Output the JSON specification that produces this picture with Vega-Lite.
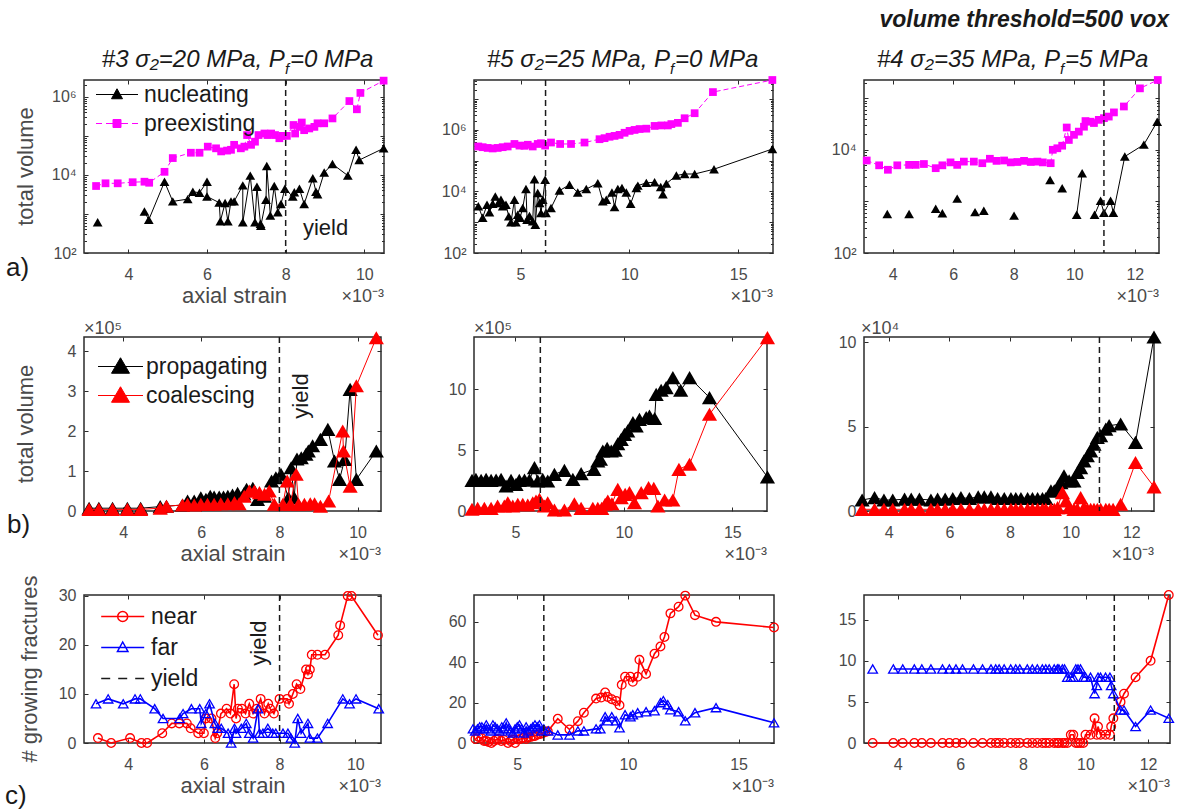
{
"$schema": "https://vega.github.io/schema/vega-lite/v6.json",
"background": "white",
"padding": {"left": 4, "top": 8, "right": 4, "bottom": 4},
"config": {
  "font": "Liberation Sans",
  "view": {"stroke": "#2b2b2b", "strokeWidth": 1.5},
  "axis": {"grid": false, "domain": false, "ticks": true, "tickSize": -4, "tickColor": "#2b2b2b", "tickWidth": 1, "labelFontSize": 16, "labelColor": "#4a4a4a", "titleFontSize": 22, "titleFontWeight": "normal", "titleColor": "#4a4a4a", "labelOverlap": false, "labelFlush": false},
  "axisX": {"labelPadding": 17, "titlePadding": 3},
  "axisY": {"labelPadding": 12},
  "legend": {"labelFontSize": 23, "labelColor": "#1a1a1a", "symbolSize": 100, "symbolStrokeWidth": 1}
},
"resolve": {"scale": {"color": "independent"}, "legend": {"color": "independent"}},
"datasets": {
"a1p": [{"x":3.18,"y":5200},{"x":3.42,"y":6100},{"x":3.73,"y":6100},{"x":4.11,"y":6500},{"x":4.41,"y":6700},{"x":4.53,"y":6300},{"x":4.92,"y":12000},{"x":5.13,"y":27000},{"x":5.59,"y":37000},{"x":5.81,"y":37000},{"x":6.02,"y":53000},{"x":6.23,"y":48000},{"x":6.36,"y":40000},{"x":6.51,"y":42000},{"x":6.61,"y":44000},{"x":6.69,"y":59000},{"x":6.86,"y":48000},{"x":6.95,"y":53000},{"x":7.02,"y":105000},{"x":7.12,"y":59000},{"x":7.22,"y":71000},{"x":7.31,"y":105000},{"x":7.46,"y":115000},{"x":7.54,"y":105000},{"x":7.63,"y":115000},{"x":7.73,"y":105000},{"x":7.84,"y":87000},{"x":7.92,"y":100000},{"x":8.03,"y":100000},{"x":8.2,"y":190000},{"x":8.24,"y":115000},{"x":8.35,"y":170000},{"x":8.41,"y":220000},{"x":8.47,"y":140000},{"x":8.6,"y":155000},{"x":8.73,"y":170000},{"x":8.81,"y":210000},{"x":8.98,"y":210000},{"x":9.19,"y":280000},{"x":9.62,"y":780000},{"x":9.81,"y":480000},{"x":9.9,"y":1260000},{"x":10.49,"y":2600000}],
"a1n": [{"x":3.22,"y":610,"g":1},{"x":4.41,"y":1150},{"x":4.52,"y":710},{"x":4.92,"y":6700},{"x":5.13,"y":2100},{"x":5.51,"y":2400},{"x":5.64,"y":3700},{"x":5.81,"y":3500},{"x":6.0,"y":6700},{"x":6.0,"y":2800},{"x":6.31,"y":1950},{"x":6.34,"y":650},{"x":6.46,"y":1900},{"x":6.53,"y":650},{"x":6.61,"y":2100},{"x":6.69,"y":2100},{"x":6.91,"y":5400},{"x":6.91,"y":610},{"x":7.1,"y":9600},{"x":7.22,"y":610},{"x":7.27,"y":5000},{"x":7.36,"y":560},{"x":7.37,"y":500},{"x":7.5,"y":2300},{"x":7.52,"y":17000},{"x":7.61,"y":910},{"x":7.71,"y":5200},{"x":7.8,"y":1100},{"x":7.88,"y":1800},{"x":7.98,"y":4400},{"x":8.18,"y":2800},{"x":8.22,"y":3600},{"x":8.35,"y":4400},{"x":8.47,"y":1800},{"x":8.69,"y":8200},{"x":8.77,"y":3700},{"x":8.81,"y":3200},{"x":8.98,"y":11500},{"x":9.19,"y":19000},{"x":9.58,"y":9600},{"x":9.79,"y":44000},{"x":9.87,"y":24000},{"x":10.49,"y":48000}],
"a2p": [{"x":3.06,"y":290000},{"x":3.26,"y":275000},{"x":3.49,"y":260000},{"x":3.72,"y":250000},{"x":3.95,"y":260000},{"x":4.18,"y":275000},{"x":4.41,"y":290000},{"x":4.72,"y":350000},{"x":4.95,"y":310000},{"x":5.18,"y":305000},{"x":5.33,"y":330000},{"x":5.56,"y":290000},{"x":5.79,"y":350000},{"x":5.94,"y":370000},{"x":6.13,"y":310000},{"x":6.4,"y":390000},{"x":6.82,"y":350000},{"x":7.32,"y":350000},{"x":7.94,"y":390000},{"x":8.63,"y":500000},{"x":8.86,"y":540000},{"x":9.09,"y":600000},{"x":9.32,"y":640000},{"x":9.55,"y":690000},{"x":9.78,"y":810000},{"x":10.01,"y":930000},{"x":10.24,"y":1000000},{"x":10.47,"y":1070000},{"x":10.78,"y":1100000},{"x":11.16,"y":1350000},{"x":11.47,"y":1400000},{"x":11.77,"y":1400000},{"x":11.93,"y":1550000},{"x":12.23,"y":1700000},{"x":12.54,"y":2400000},{"x":13.0,"y":3500000},{"x":13.84,"y":17000000},{"x":16.57,"y":42000000}],
"a2n": [{"x":3.06,"y":3300},{"x":3.26,"y":1400},{"x":3.46,"y":3700},{"x":3.57,"y":2100},{"x":3.72,"y":4000},{"x":3.84,"y":6900},{"x":3.98,"y":4200},{"x":4.1,"y":5400},{"x":4.18,"y":3300},{"x":4.33,"y":3700},{"x":4.46,"y":1550},{"x":4.56,"y":990},{"x":4.72,"y":5400},{"x":4.79,"y":990},{"x":4.87,"y":1750},{"x":4.98,"y":1400},{"x":5.1,"y":2900},{"x":5.25,"y":12000},{"x":5.3,"y":1200},{"x":5.41,"y":1600},{"x":5.56,"y":1070},{"x":5.64,"y":25000},{"x":5.68,"y":830},{"x":5.79,"y":8900},{"x":5.88,"y":4200},{"x":5.94,"y":2000},{"x":6.02,"y":5400},{"x":6.13,"y":24000},{"x":6.17,"y":2000},{"x":6.4,"y":2900},{"x":6.79,"y":10700},{"x":7.25,"y":16500},{"x":7.63,"y":9300},{"x":8.02,"y":12000},{"x":8.55,"y":18500},{"x":8.78,"y":4800},{"x":8.94,"y":5400},{"x":9.2,"y":9300},{"x":9.32,"y":3100},{"x":9.47,"y":12000},{"x":9.66,"y":13000},{"x":9.86,"y":9300},{"x":10.06,"y":4000},{"x":10.32,"y":13000},{"x":10.39,"y":15500},{"x":10.78,"y":19000},{"x":11.16,"y":20000},{"x":11.44,"y":14000},{"x":11.54,"y":8100},{"x":11.7,"y":18000},{"x":12.16,"y":33000},{"x":12.54,"y":37000},{"x":13.0,"y":37000},{"x":13.89,"y":53000},{"x":16.57,"y":240000}],
"a3p": [{"x":3.14,"y":6200},{"x":3.55,"y":5000},{"x":3.84,"y":4100},{"x":4.15,"y":5000},{"x":4.54,"y":5100},{"x":4.76,"y":5100},{"x":5.03,"y":5300},{"x":5.42,"y":4400},{"x":5.64,"y":5000},{"x":5.91,"y":5700},{"x":6.13,"y":5100},{"x":6.35,"y":5900},{"x":6.68,"y":5900},{"x":6.96,"y":5500},{"x":7.21,"y":6700},{"x":7.43,"y":6100},{"x":7.68,"y":6200},{"x":7.9,"y":5700},{"x":8.12,"y":5800},{"x":8.34,"y":6100},{"x":8.56,"y":5800},{"x":8.78,"y":5900},{"x":8.96,"y":5700},{"x":9.22,"y":5500},{"x":9.29,"y":10000},{"x":9.44,"y":10700},{"x":9.6,"y":12000},{"x":9.75,"y":27000},{"x":9.82,"y":15500},{"x":9.99,"y":19500},{"x":10.15,"y":22500},{"x":10.32,"y":28000},{"x":10.37,"y":36000},{"x":10.54,"y":35000},{"x":10.65,"y":33000},{"x":10.81,"y":38000},{"x":10.98,"y":41000},{"x":11.14,"y":44000},{"x":11.31,"y":53000},{"x":11.64,"y":69000},{"x":12.17,"y":155000},{"x":12.76,"y":225000}],
"a3n": [{"x":3.82,"y":570,"g":1},{"x":4.54,"y":570,"g":2},{"x":5.42,"y":720,"g":3},{"x":5.64,"y":590,"g":4},{"x":6.13,"y":1130,"g":5},{"x":6.72,"y":620,"g":6},{"x":7.01,"y":660,"g":7},{"x":8.01,"y":530,"g":8},{"x":9.2,"y":2600,"g":9},{"x":9.6,"y":1800,"g":10},{"x":10.08,"y":550,"g":11},{"x":10.26,"y":3500,"g":11},{"x":10.67,"y":550,"g":12},{"x":10.87,"y":1030,"g":12},{"x":10.98,"y":600,"g":12},{"x":11.2,"y":1030,"g":12},{"x":11.29,"y":600,"g":12},{"x":11.67,"y":7400,"g":12},{"x":12.3,"y":12600,"g":12},{"x":12.74,"y":35000,"g":12}],
"b1p": [{"x":3.13,"y":7000},{"x":3.38,"y":7000},{"x":3.73,"y":7000},{"x":4.11,"y":7000},{"x":4.45,"y":7000},{"x":4.95,"y":11000},{"x":5.11,"y":12000},{"x":5.52,"y":15000},{"x":5.65,"y":25000},{"x":5.82,"y":25000},{"x":5.99,"y":33000},{"x":6.12,"y":29000},{"x":6.23,"y":37000},{"x":6.33,"y":35000},{"x":6.46,"y":35000},{"x":6.57,"y":35000},{"x":6.68,"y":37000},{"x":6.8,"y":40000},{"x":6.93,"y":44000},{"x":7.09,"y":43000},{"x":7.16,"y":54000},{"x":7.32,"y":57000},{"x":7.44,"y":29000},{"x":7.62,"y":37000},{"x":7.8,"y":75000},{"x":7.91,"y":83000},{"x":8.04,"y":92000},{"x":8.23,"y":33000},{"x":8.3,"y":108000},{"x":8.38,"y":33000},{"x":8.45,"y":130000},{"x":8.56,"y":133000},{"x":8.68,"y":142000},{"x":8.74,"y":150000},{"x":8.85,"y":163000},{"x":9.05,"y":179000},{"x":9.24,"y":204000},{"x":9.41,"y":125000},{"x":9.54,"y":79000},{"x":9.67,"y":129000},{"x":9.81,"y":304000},{"x":9.97,"y":79000},{"x":10.48,"y":150000}],
"b1c": [{"x":3.13,"y":4000},{"x":3.38,"y":4000},{"x":3.73,"y":4000},{"x":4.11,"y":4000},{"x":4.45,"y":4000},{"x":4.95,"y":7000},{"x":5.11,"y":12000},{"x":5.52,"y":15000},{"x":5.65,"y":17000},{"x":5.82,"y":15000},{"x":5.99,"y":17000},{"x":6.16,"y":17000},{"x":6.33,"y":17000},{"x":6.5,"y":18000},{"x":6.68,"y":18000},{"x":6.85,"y":21000},{"x":6.97,"y":18000},{"x":7.1,"y":37000},{"x":7.23,"y":50000},{"x":7.36,"y":50000},{"x":7.49,"y":46000},{"x":7.62,"y":42000},{"x":7.74,"y":50000},{"x":7.87,"y":17000},{"x":8.09,"y":17000},{"x":8.2,"y":75000},{"x":8.28,"y":17000},{"x":8.43,"y":92000},{"x":8.49,"y":17000},{"x":8.64,"y":17000},{"x":8.79,"y":18000},{"x":8.9,"y":18000},{"x":9.05,"y":12000},{"x":9.26,"y":25000},{"x":9.62,"y":200000},{"x":9.64,"y":150000},{"x":9.81,"y":62000},{"x":9.97,"y":313000},{"x":10.48,"y":433000}],
"b2p": [{"x":3.0,"y":252000},{"x":3.18,"y":260000},{"x":3.42,"y":252000},{"x":3.65,"y":260000},{"x":3.88,"y":252000},{"x":4.11,"y":255000},{"x":4.34,"y":260000},{"x":4.57,"y":205000},{"x":4.8,"y":252000},{"x":5.03,"y":219000},{"x":5.18,"y":252000},{"x":5.42,"y":255000},{"x":5.65,"y":255000},{"x":5.88,"y":356000},{"x":6.03,"y":247000},{"x":6.26,"y":260000},{"x":6.49,"y":247000},{"x":6.8,"y":301000},{"x":7.26,"y":334000},{"x":7.65,"y":260000},{"x":8.03,"y":307000},{"x":8.62,"y":342000},{"x":8.8,"y":411000},{"x":8.92,"y":425000},{"x":9.03,"y":493000},{"x":9.23,"y":515000},{"x":9.42,"y":493000},{"x":9.6,"y":499000},{"x":9.72,"y":553000},{"x":9.88,"y":589000},{"x":10.03,"y":630000},{"x":10.18,"y":658000},{"x":10.42,"y":726000},{"x":10.57,"y":699000},{"x":10.72,"y":753000},{"x":11.03,"y":767000},{"x":11.18,"y":781000},{"x":11.42,"y":760000},{"x":11.49,"y":959000},{"x":11.72,"y":992000},{"x":11.95,"y":1014000},{"x":12.26,"y":1096000},{"x":12.62,"y":992000},{"x":13.03,"y":1096000},{"x":13.95,"y":932000},{"x":16.62,"y":279000}],
"b2c": [{"x":3.0,"y":14000},{"x":3.26,"y":22000},{"x":3.57,"y":22000},{"x":3.88,"y":22000},{"x":4.18,"y":41000},{"x":4.49,"y":41000},{"x":4.65,"y":68000},{"x":4.88,"y":41000},{"x":5.11,"y":55000},{"x":5.34,"y":55000},{"x":5.57,"y":49000},{"x":5.8,"y":68000},{"x":5.95,"y":82000},{"x":6.11,"y":96000},{"x":6.34,"y":41000},{"x":6.49,"y":68000},{"x":6.8,"y":8000},{"x":7.26,"y":8000},{"x":7.72,"y":60000},{"x":8.03,"y":22000},{"x":8.57,"y":22000},{"x":8.8,"y":22000},{"x":8.98,"y":22000},{"x":9.14,"y":55000},{"x":9.26,"y":82000},{"x":9.45,"y":60000},{"x":9.72,"y":178000},{"x":9.88,"y":110000},{"x":10.06,"y":137000},{"x":10.26,"y":151000},{"x":10.49,"y":68000},{"x":10.8,"y":151000},{"x":11.14,"y":192000},{"x":11.38,"y":186000},{"x":11.57,"y":41000},{"x":11.88,"y":90000},{"x":12.26,"y":90000},{"x":12.54,"y":342000},{"x":13.03,"y":384000},{"x":13.95,"y":795000},{"x":16.62,"y":1425000}],
"b3p": [{"x":3.12,"y":6500},{"x":3.53,"y":7900},{"x":3.84,"y":6500},{"x":4.13,"y":6500},{"x":4.52,"y":7000},{"x":4.74,"y":7000},{"x":5.01,"y":7000},{"x":5.39,"y":6500},{"x":5.61,"y":7000},{"x":5.86,"y":7000},{"x":6.11,"y":7400},{"x":6.38,"y":7900},{"x":6.66,"y":7400},{"x":6.95,"y":8400},{"x":7.15,"y":8400},{"x":7.37,"y":8400},{"x":7.59,"y":7400},{"x":7.81,"y":7400},{"x":8.03,"y":7400},{"x":8.19,"y":7400},{"x":8.36,"y":7400},{"x":8.58,"y":7400},{"x":8.74,"y":7400},{"x":8.91,"y":7400},{"x":9.07,"y":7400},{"x":9.18,"y":7400},{"x":9.35,"y":11900},{"x":9.46,"y":11900},{"x":9.57,"y":14300},{"x":9.68,"y":16800},{"x":9.78,"y":20800},{"x":9.95,"y":17800},{"x":10.11,"y":17800},{"x":10.22,"y":22800},{"x":10.33,"y":25700},{"x":10.44,"y":29700},{"x":10.55,"y":32700},{"x":10.66,"y":35600},{"x":10.77,"y":39600},{"x":10.88,"y":43600},{"x":10.99,"y":44600},{"x":11.16,"y":48500},{"x":11.27,"y":50500},{"x":11.65,"y":51500},{"x":12.14,"y":40600},{"x":12.75,"y":103000}],
"b3c": [{"x":3.12,"y":1000},{"x":3.53,"y":1000},{"x":3.84,"y":1000},{"x":4.13,"y":1000},{"x":4.52,"y":1000},{"x":4.74,"y":1000},{"x":5.01,"y":1000},{"x":5.39,"y":1000},{"x":5.61,"y":1000},{"x":5.86,"y":1000},{"x":6.11,"y":1000},{"x":6.38,"y":1000},{"x":6.66,"y":1000},{"x":6.95,"y":1000},{"x":7.15,"y":1000},{"x":7.37,"y":1000},{"x":7.59,"y":1000},{"x":7.81,"y":1000},{"x":8.03,"y":1000},{"x":8.19,"y":1000},{"x":8.36,"y":1000},{"x":8.58,"y":1000},{"x":8.74,"y":1000},{"x":8.91,"y":1000},{"x":9.07,"y":1000},{"x":9.18,"y":1000},{"x":9.35,"y":1000},{"x":9.46,"y":1000},{"x":9.57,"y":2000},{"x":9.73,"y":10900},{"x":9.85,"y":6000},{"x":9.95,"y":2000},{"x":10.11,"y":1000},{"x":10.22,"y":1000},{"x":10.33,"y":7900},{"x":10.44,"y":2000},{"x":10.55,"y":1000},{"x":10.66,"y":1000},{"x":10.77,"y":1000},{"x":10.88,"y":1000},{"x":10.99,"y":1000},{"x":11.16,"y":1000},{"x":11.27,"y":1000},{"x":11.4,"y":1000},{"x":11.65,"y":4000},{"x":12.14,"y":28700},{"x":12.75,"y":14300}],
"c1n": [{"x":3.2,"y":1},{"x":3.55,"y":0},{"x":4.05,"y":1},{"x":4.35,"y":0},{"x":4.5,"y":0},{"x":4.9,"y":2},{"x":5.15,"y":4},{"x":5.35,"y":4},{"x":5.55,"y":4},{"x":5.65,"y":3},{"x":5.85,"y":2},{"x":6.0,"y":2},{"x":6.05,"y":5},{"x":6.2,"y":5},{"x":6.3,"y":1},{"x":6.35,"y":2},{"x":6.45,"y":6},{"x":6.6,"y":7},{"x":6.7,"y":6},{"x":6.8,"y":12},{"x":6.85,"y":5},{"x":6.9,"y":7},{"x":7.0,"y":7},{"x":7.1,"y":6},{"x":7.2,"y":8},{"x":7.3,"y":6},{"x":7.4,"y":7},{"x":7.5,"y":9},{"x":7.6,"y":6},{"x":7.7,"y":8},{"x":7.75,"y":7},{"x":7.85,"y":6},{"x":8.0,"y":9},{"x":8.2,"y":9},{"x":8.25,"y":8},{"x":8.35,"y":10},{"x":8.45,"y":12},{"x":8.55,"y":11},{"x":8.7,"y":15},{"x":8.75,"y":14},{"x":8.8,"y":15},{"x":8.85,"y":18},{"x":9.0,"y":18},{"x":9.2,"y":18},{"x":9.55,"y":22},{"x":9.6,"y":24},{"x":9.8,"y":30},{"x":9.9,"y":30},{"x":10.6,"y":22}],
"c1f": [{"x":3.15,"y":8},{"x":3.47,"y":9},{"x":3.87,"y":8},{"x":4.18,"y":9},{"x":4.32,"y":9},{"x":4.7,"y":7},{"x":4.92,"y":5},{"x":5.36,"y":5},{"x":5.45,"y":6},{"x":5.67,"y":7},{"x":5.89,"y":7},{"x":5.93,"y":4},{"x":6.05,"y":6},{"x":6.15,"y":8},{"x":6.29,"y":4},{"x":6.37,"y":3},{"x":6.46,"y":3},{"x":6.64,"y":2},{"x":6.72,"y":0},{"x":6.81,"y":3},{"x":6.85,"y":2},{"x":6.99,"y":3},{"x":7.12,"y":4},{"x":7.2,"y":2},{"x":7.3,"y":1},{"x":7.43,"y":7},{"x":7.47,"y":2},{"x":7.56,"y":2},{"x":7.69,"y":3},{"x":7.82,"y":2},{"x":7.9,"y":2},{"x":8.09,"y":2},{"x":8.22,"y":2},{"x":8.3,"y":1},{"x":8.4,"y":0},{"x":8.48,"y":5},{"x":8.57,"y":2},{"x":8.75,"y":4},{"x":8.8,"y":1},{"x":9.0,"y":1},{"x":9.27,"y":4},{"x":9.67,"y":9},{"x":9.85,"y":8},{"x":10.02,"y":9},{"x":10.62,"y":7}],
"c2n": [{"x":3.11,"y":2},{"x":3.25,"y":3},{"x":3.38,"y":2.5},{"x":3.5,"y":1},{"x":3.6,"y":1},{"x":3.7,"y":0.5},{"x":3.83,"y":0},{"x":3.95,"y":1},{"x":4.05,"y":1.7},{"x":4.15,"y":2},{"x":4.28,"y":1},{"x":4.4,"y":1.5},{"x":4.58,"y":0},{"x":4.7,"y":1},{"x":4.8,"y":1.7},{"x":4.9,"y":0},{"x":5.03,"y":1.7},{"x":5.15,"y":2},{"x":5.26,"y":2.5},{"x":5.4,"y":2},{"x":5.48,"y":2.8},{"x":5.6,"y":3},{"x":5.71,"y":3.3},{"x":5.8,"y":3.5},{"x":5.93,"y":4.2},{"x":6.05,"y":4.5},{"x":6.16,"y":5},{"x":6.27,"y":5.5},{"x":6.38,"y":5.8},{"x":6.83,"y":12},{"x":7.36,"y":6.7},{"x":7.74,"y":10.8},{"x":8.01,"y":15},{"x":8.56,"y":22},{"x":8.79,"y":22.5},{"x":8.97,"y":25},{"x":9.09,"y":22.8},{"x":9.27,"y":21.7},{"x":9.47,"y":20.8},{"x":9.62,"y":18.7},{"x":9.72,"y":28.8},{"x":9.87,"y":32.8},{"x":10.11,"y":32.8},{"x":10.22,"y":30.3},{"x":10.44,"y":32.8},{"x":10.52,"y":41.2},{"x":10.82,"y":34.2},{"x":11.2,"y":44.2},{"x":11.47,"y":47.8},{"x":11.65,"y":52.5},{"x":11.92,"y":64.2},{"x":12.29,"y":67.5},{"x":12.59,"y":73},{"x":13.03,"y":63.3},{"x":13.98,"y":60},{"x":16.6,"y":57.2}],
"c2f": [{"x":3.0,"y":7},{"x":3.1,"y":6},{"x":3.2,"y":7},{"x":3.3,"y":8},{"x":3.4,"y":8},{"x":3.5,"y":7},{"x":3.6,"y":9},{"x":3.7,"y":7},{"x":3.8,"y":6},{"x":3.9,"y":9},{"x":4.0,"y":8},{"x":4.1,"y":7},{"x":4.2,"y":6},{"x":4.3,"y":8},{"x":4.4,"y":7},{"x":4.5,"y":10},{"x":4.6,"y":7},{"x":4.7,"y":6},{"x":4.8,"y":5},{"x":4.9,"y":7},{"x":5.0,"y":8},{"x":5.1,"y":9},{"x":5.2,"y":7},{"x":5.3,"y":5},{"x":5.4,"y":8},{"x":5.5,"y":6},{"x":5.6,"y":7},{"x":5.7,"y":8},{"x":5.8,"y":9},{"x":5.9,"y":8},{"x":6.0,"y":9},{"x":6.1,"y":6},{"x":6.2,"y":7},{"x":6.4,"y":6},{"x":6.83,"y":4},{"x":7.36,"y":4},{"x":7.74,"y":6},{"x":8.01,"y":6},{"x":8.56,"y":7},{"x":8.75,"y":7},{"x":8.97,"y":13},{"x":9.09,"y":11},{"x":9.27,"y":13},{"x":9.47,"y":11},{"x":9.62,"y":7.5},{"x":9.87,"y":14},{"x":10.11,"y":13},{"x":10.22,"y":14},{"x":10.44,"y":15},{"x":10.82,"y":15.5},{"x":11.2,"y":16},{"x":11.47,"y":20},{"x":11.6,"y":21},{"x":11.8,"y":19},{"x":11.92,"y":16.5},{"x":12.29,"y":15.5},{"x":12.59,"y":11},{"x":13.03,"y":15},{"x":13.98,"y":17.5},{"x":16.6,"y":10}],
"c3n": [{"x":3.2,"y":0},{"x":3.86,"y":0},{"x":4.16,"y":0},{"x":4.53,"y":0},{"x":4.77,"y":0},{"x":5.06,"y":0},{"x":5.43,"y":0},{"x":5.65,"y":0},{"x":5.86,"y":0},{"x":6.07,"y":0},{"x":6.42,"y":0},{"x":6.71,"y":0},{"x":6.98,"y":0},{"x":7.13,"y":0},{"x":7.24,"y":0},{"x":7.4,"y":0},{"x":7.61,"y":0},{"x":7.77,"y":0},{"x":7.9,"y":0},{"x":8.14,"y":0},{"x":8.3,"y":0},{"x":8.46,"y":0},{"x":8.62,"y":0},{"x":8.73,"y":0},{"x":8.84,"y":0},{"x":9.0,"y":0},{"x":9.1,"y":0},{"x":9.15,"y":0},{"x":9.26,"y":0},{"x":9.33,"y":0},{"x":9.42,"y":0},{"x":9.53,"y":1},{"x":9.61,"y":1},{"x":9.69,"y":0},{"x":9.76,"y":0},{"x":9.84,"y":0},{"x":9.93,"y":0},{"x":10.0,"y":1},{"x":10.16,"y":1},{"x":10.29,"y":3},{"x":10.36,"y":1},{"x":10.4,"y":2},{"x":10.48,"y":1},{"x":10.64,"y":1},{"x":10.78,"y":1},{"x":10.82,"y":2},{"x":10.89,"y":3},{"x":11.12,"y":5},{"x":11.23,"y":6},{"x":11.6,"y":8},{"x":12.08,"y":10},{"x":12.66,"y":18}],
"c3f": [{"x":3.2,"y":9,"g":1},{"x":3.86,"y":9},{"x":4.16,"y":9},{"x":4.53,"y":9},{"x":4.77,"y":9},{"x":5.06,"y":9},{"x":5.43,"y":9},{"x":5.65,"y":9},{"x":5.86,"y":9},{"x":6.07,"y":9},{"x":6.42,"y":9},{"x":6.71,"y":9},{"x":6.98,"y":9},{"x":7.13,"y":9},{"x":7.24,"y":9},{"x":7.4,"y":9},{"x":7.61,"y":9},{"x":7.77,"y":9},{"x":7.9,"y":9},{"x":8.14,"y":9},{"x":8.3,"y":9},{"x":8.46,"y":9},{"x":8.62,"y":9},{"x":8.73,"y":9},{"x":8.84,"y":9},{"x":9.0,"y":9},{"x":9.1,"y":9},{"x":9.15,"y":9},{"x":9.26,"y":9},{"x":9.33,"y":9},{"x":9.42,"y":8},{"x":9.53,"y":8},{"x":9.61,"y":8},{"x":9.69,"y":9},{"x":9.76,"y":9},{"x":9.84,"y":9},{"x":9.93,"y":8},{"x":10.0,"y":8},{"x":10.16,"y":8},{"x":10.29,"y":6},{"x":10.36,"y":7},{"x":10.4,"y":8},{"x":10.48,"y":8},{"x":10.64,"y":8},{"x":10.78,"y":8},{"x":10.82,"y":7},{"x":10.89,"y":6},{"x":11.12,"y":4},{"x":11.23,"y":4},{"x":11.6,"y":2},{"x":12.08,"y":4},{"x":12.66,"y":3}]
},
"columns": 3,
"spacing": {"row": 84, "column": 90},
"bounds": "flush",
"align": "each",
"concat": [
{
 "width": 300, "height": 173,
 "resolve": {"axis": {"x": "independent", "y": "independent"}},
 "layer": [
  {"data": {"name": "a1p"}, "mark": {"type": "line", "strokeWidth": 1, "strokeDash": [5, 3]},
   "encoding": {
    "x": {"field": "x", "type": "quantitative", "scale": {"domain": [2.873, 10.5], "nice": false, "zero": false}, "axis": {"values": [4, 6, 8, 10], "title": "axial strain"}},
    "y": {"field": "y", "type": "quantitative", "scale": {"type": "log", "domain": [100, 2700000], "nice": false}, "axis": {"values": [100, 1000, 10000, 100000, 1000000], "labelExpr": "datum.value==100?'10²':datum.value==10000?'10⁴':datum.value==1000000?'10⁶':''", "title": null}},
    "color": {"datum": "preexisting", "scale": {"domain": ["nucleating", "preexisting"], "range": ["#000000", "#ff00ff"]},
     "legend": {"title": null, "orient": "none", "legendX": 21.5, "legendY": 3, "rowPadding": 5, "labelOffset": 15.5, "symbolOffset": 0,
      "encode": {"symbols": {"update": {
        "shape": {"signal": "datum.value=='nucleating'?'M-4.2,0H4.2M0,-1.15L1.1,0.85H-1.1Z':'M-4.2,0H-3M-2.2,0H-0.8M0.8,0H2.2M3,0H4.2M-0.8,-0.8H0.8V0.8H-0.8Z'"},
        "fill": {"signal": "datum.value=='nucleating'?'#000000':'#ff00ff'"},
        "stroke": {"signal": "datum.value=='nucleating'?'#000000':'#ff00ff'"},
        "strokeWidth": {"value": 1}, "opacity": {"value": 1}, "strokeDash": {"value": []}}}}}},
    "order": {"value": null}}},
  {"data": {"name": "a1p"}, "mark": {"type": "point", "shape": "square", "filled": true, "size": 60, "opacity": 1},
   "encoding": {"x": {"field": "x", "type": "quantitative", "axis": null}, "y": {"field": "y", "type": "quantitative", "axis": null}, "color": {"datum": "preexisting", "legend": null}}},
  {"data": {"name": "a1n"}, "mark": {"type": "line", "strokeWidth": 1},
   "encoding": {"x": {"field": "x", "type": "quantitative", "axis": null}, "y": {"field": "y", "type": "quantitative", "axis": null}, "color": {"datum": "nucleating", "legend": null}, "detail": {"field": "g"}, "order": {"value": null}}},
  {"data": {"name": "a1n"}, "mark": {"type": "point", "shape": "triangle-up", "filled": true, "size": 95, "opacity": 1},
   "encoding": {"x": {"field": "x", "type": "quantitative", "axis": null}, "y": {"field": "y", "type": "quantitative", "axis": null}, "color": {"datum": "nucleating", "legend": null}}},
  {"data": {"values": [{}]}, "mark": {"type": "point", "opacity": 0},
   "encoding": {"x": {"datum": 5, "type": "quantitative", "axis": {"orient": "top", "values": [4, 6, 8, 10], "labels": false, "title": null}}, "y": {"datum": 1000, "type": "quantitative", "axis": {"orient": "right", "values": [100, 1000, 10000, 100000, 1000000], "labels": false, "title": null}}}},
  {"data": {"values": [{}]}, "mark": {"type": "point", "opacity": 0},
   "encoding": {"x": {"datum": 5, "type": "quantitative", "axis": null}, "y": {"datum": 1000, "type": "quantitative", "axis": {"orient": "left", "values": [200,300,400,500,600,700,800,900,2000,3000,4000,5000,6000,7000,8000,9000,20000,30000,40000,50000,60000,70000,80000,90000,200000,300000,400000,500000,600000,700000,800000,900000,2000000], "labels": false, "title": null, "tickSize": -2.5}}}},
  {"data": {"values": [{}]}, "mark": {"type": "point", "opacity": 0},
   "encoding": {"x": {"datum": 5, "type": "quantitative", "axis": null}, "y": {"datum": 1000, "type": "quantitative", "axis": {"orient": "right", "values": [200,300,400,500,600,700,800,900,2000,3000,4000,5000,6000,7000,8000,9000,20000,30000,40000,50000,60000,70000,80000,90000,200000,300000,400000,500000,600000,700000,800000,900000,2000000], "labels": false, "title": null, "tickSize": -2.5}}}},
  {"data": {"values": [{}]}, "mark": {"type": "rule", "strokeDash": [6, 4], "strokeWidth": 1.5, "color": "#1a1a1a"},
   "encoding": {"x": {"datum": 8, "type": "quantitative", "axis": null}}},
  {"data": {"values": [{}]}, "mark": {"type": "text", "text": "yield", "fontSize": 22, "align": "left", "baseline": "middle", "color": "#1a1a1a"},
   "encoding": {"x": {"datum": 8.44, "type": "quantitative", "axis": null}, "y": {"datum": 437, "type": "quantitative", "axis": null}}},
  {"data": {"values": [{}]}, "mark": {"type": "text", "text": "total volume", "fontSize": 22, "angle": 270, "align": "center", "baseline": "middle", "color": "#4a4a4a"},
   "encoding": {"x": {"datum": 1.398, "type": "quantitative", "axis": null}, "y": {"datum": 16430, "type": "quantitative", "axis": null}}},
  {"data": {"values": [{}]}, "mark": {"type": "text", "text": "#3 σ₂=20 MPa, P", "fontSize": 24, "fontStyle": "italic", "align": "right", "baseline": "alphabetic", "color": "#1a1a1a"},
   "encoding": {"x": {"datum": 7.98, "type": "quantitative", "axis": null}, "y": {"datum": 5800000, "type": "quantitative", "axis": null}}},
  {"data": {"values": [{}]}, "mark": {"type": "text", "text": "f", "fontSize": 15, "fontStyle": "italic", "align": "left", "baseline": "alphabetic", "dy": 7, "dx": 0, "color": "#1a1a1a"},
   "encoding": {"x": {"datum": 7.98, "type": "quantitative", "axis": null}, "y": {"datum": 5800000, "type": "quantitative", "axis": null}}},
  {"data": {"values": [{}]}, "mark": {"type": "text", "text": "=0 MPa", "fontSize": 24, "fontStyle": "italic", "align": "left", "baseline": "alphabetic", "dx": 5, "color": "#1a1a1a"},
   "encoding": {"x": {"datum": 7.98, "type": "quantitative", "axis": null}, "y": {"datum": 5800000, "type": "quantitative", "axis": null}}},
  {"data": {"values": [{}]}, "mark": {"type": "text", "text": "×10⁻³", "fontSize": 18, "align": "right", "baseline": "middle", "color": "#4a4a4a"},
   "encoding": {"x": {"datum": 10.5, "type": "quantitative", "axis": null}, "y": {"datum": 7.46, "type": "quantitative", "axis": null}}},
  {"data": {"values": [{}]}, "mark": {"type": "text", "text": "a)", "fontSize": 26, "align": "left", "baseline": "middle", "color": "#1a1a1a"},
   "encoding": {"x": {"datum": 0.89, "type": "quantitative", "axis": null}, "y": {"datum": 41.3, "type": "quantitative", "axis": null}}}
 ]
},
{
 "width": 299, "height": 173,
 "resolve": {"axis": {"x": "independent", "y": "independent"}},
 "layer": [
  {"data": {"name": "a2p"}, "mark": {"type": "line", "strokeWidth": 1, "strokeDash": [5, 3]},
   "encoding": {
    "x": {"field": "x", "type": "quantitative", "scale": {"domain": [2.862, 16.6], "nice": false, "zero": false}, "axis": {"values": [5, 10, 15], "title": null}},
    "y": {"field": "y", "type": "quantitative", "scale": {"type": "log", "domain": [100, 42000000], "nice": false}, "axis": {"values": [100, 1000, 10000, 100000, 1000000, 10000000], "labelExpr": "datum.value==100?'10²':datum.value==10000?'10⁴':datum.value==1000000?'10⁶':''", "title": null}},
    "color": {"datum": "preexisting", "scale": {"domain": ["nucleating", "preexisting"], "range": ["#000000", "#ff00ff"]}, "legend": null},
    "order": {"value": null}}},
  {"data": {"name": "a2p"}, "mark": {"type": "point", "shape": "square", "filled": true, "size": 60, "opacity": 1},
   "encoding": {"x": {"field": "x", "type": "quantitative", "axis": null}, "y": {"field": "y", "type": "quantitative", "axis": null}, "color": {"datum": "preexisting", "legend": null}}},
  {"data": {"name": "a2n"}, "mark": {"type": "line", "strokeWidth": 1},
   "encoding": {"x": {"field": "x", "type": "quantitative", "axis": null}, "y": {"field": "y", "type": "quantitative", "axis": null}, "color": {"datum": "nucleating", "legend": null}, "order": {"value": null}}},
  {"data": {"name": "a2n"}, "mark": {"type": "point", "shape": "triangle-up", "filled": true, "size": 95, "opacity": 1},
   "encoding": {"x": {"field": "x", "type": "quantitative", "axis": null}, "y": {"field": "y", "type": "quantitative", "axis": null}, "color": {"datum": "nucleating", "legend": null}}},
  {"data": {"values": [{}]}, "mark": {"type": "point", "opacity": 0},
   "encoding": {"x": {"datum": 5, "type": "quantitative", "axis": {"orient": "top", "values": [5, 10, 15], "labels": false, "title": null}}, "y": {"datum": 1000, "type": "quantitative", "axis": {"orient": "right", "values": [100, 1000, 10000, 100000, 1000000, 10000000], "labels": false, "title": null}}}},
  {"data": {"values": [{}]}, "mark": {"type": "point", "opacity": 0},
   "encoding": {"x": {"datum": 5, "type": "quantitative", "axis": null}, "y": {"datum": 1000, "type": "quantitative", "axis": {"orient": "left", "values": [200,300,400,500,600,700,800,900,2000,3000,4000,5000,6000,7000,8000,9000,20000,30000,40000,50000,60000,70000,80000,90000,200000,300000,400000,500000,600000,700000,800000,900000,2000000,3000000,4000000,5000000,6000000,7000000,8000000,9000000,20000000,30000000,40000000], "labels": false, "title": null, "tickSize": -2.5}}}},
  {"data": {"values": [{}]}, "mark": {"type": "point", "opacity": 0},
   "encoding": {"x": {"datum": 5, "type": "quantitative", "axis": null}, "y": {"datum": 1000, "type": "quantitative", "axis": {"orient": "right", "values": [200,300,400,500,600,700,800,900,2000,3000,4000,5000,6000,7000,8000,9000,20000,30000,40000,50000,60000,70000,80000,90000,200000,300000,400000,500000,600000,700000,800000,900000,2000000,3000000,4000000,5000000,6000000,7000000,8000000,9000000,20000000,30000000,40000000], "labels": false, "title": null, "tickSize": -2.5}}}},
  {"data": {"values": [{}]}, "mark": {"type": "rule", "strokeDash": [6, 4], "strokeWidth": 1.5, "color": "#1a1a1a"},
   "encoding": {"x": {"datum": 6.15, "type": "quantitative", "axis": null}}},
  {"data": {"values": [{}]}, "mark": {"type": "text", "text": "#5 σ₂=25 MPa, P", "fontSize": 24, "fontStyle": "italic", "align": "right", "baseline": "alphabetic", "color": "#1a1a1a"},
   "encoding": {"x": {"datum": 11.87, "type": "quantitative", "axis": null}, "y": {"datum": 111000000, "type": "quantitative", "axis": null}}},
  {"data": {"values": [{}]}, "mark": {"type": "text", "text": "f", "fontSize": 15, "fontStyle": "italic", "align": "left", "baseline": "alphabetic", "dy": 7, "color": "#1a1a1a"},
   "encoding": {"x": {"datum": 11.87, "type": "quantitative", "axis": null}, "y": {"datum": 111000000, "type": "quantitative", "axis": null}}},
  {"data": {"values": [{}]}, "mark": {"type": "text", "text": "=0 MPa", "fontSize": 24, "fontStyle": "italic", "align": "left", "baseline": "alphabetic", "dx": 5, "color": "#1a1a1a"},
   "encoding": {"x": {"datum": 11.87, "type": "quantitative", "axis": null}, "y": {"datum": 111000000, "type": "quantitative", "axis": null}}},
  {"data": {"values": [{}]}, "mark": {"type": "text", "text": "×10⁻³", "fontSize": 18, "align": "right", "baseline": "middle", "color": "#4a4a4a"},
   "encoding": {"x": {"datum": 16.6, "type": "quantitative", "axis": null}, "y": {"datum": 3.72, "type": "quantitative", "axis": null}}}
 ]
},
{
 "width": 295, "height": 173,
 "resolve": {"axis": {"x": "independent", "y": "independent"}},
 "layer": [
  {"data": {"name": "a3p"}, "mark": {"type": "line", "strokeWidth": 1, "strokeDash": [5, 3]},
   "encoding": {
    "x": {"field": "x", "type": "quantitative", "scale": {"domain": [3.05, 12.8], "nice": false, "zero": false}, "axis": {"values": [4, 6, 8, 10, 12], "title": null}},
    "y": {"field": "y", "type": "quantitative", "scale": {"type": "log", "domain": [100, 225000], "nice": false}, "axis": {"values": [100, 1000, 10000, 100000], "labelExpr": "datum.value==100?'10²':datum.value==10000?'10⁴':''", "title": null}},
    "color": {"datum": "preexisting", "scale": {"domain": ["nucleating", "preexisting"], "range": ["#000000", "#ff00ff"]}, "legend": null},
    "order": {"value": null}}},
  {"data": {"name": "a3p"}, "mark": {"type": "point", "shape": "square", "filled": true, "size": 60, "opacity": 1},
   "encoding": {"x": {"field": "x", "type": "quantitative", "axis": null}, "y": {"field": "y", "type": "quantitative", "axis": null}, "color": {"datum": "preexisting", "legend": null}}},
  {"data": {"name": "a3n"}, "mark": {"type": "line", "strokeWidth": 1},
   "encoding": {"x": {"field": "x", "type": "quantitative", "axis": null}, "y": {"field": "y", "type": "quantitative", "axis": null}, "color": {"datum": "nucleating", "legend": null}, "detail": {"field": "g"}, "order": {"value": null}}},
  {"data": {"name": "a3n"}, "mark": {"type": "point", "shape": "triangle-up", "filled": true, "size": 95, "opacity": 1},
   "encoding": {"x": {"field": "x", "type": "quantitative", "axis": null}, "y": {"field": "y", "type": "quantitative", "axis": null}, "color": {"datum": "nucleating", "legend": null}}},
  {"data": {"values": [{}]}, "mark": {"type": "point", "opacity": 0},
   "encoding": {"x": {"datum": 5, "type": "quantitative", "axis": {"orient": "top", "values": [4, 6, 8, 10, 12], "labels": false, "title": null}}, "y": {"datum": 1000, "type": "quantitative", "axis": {"orient": "right", "values": [100, 1000, 10000, 100000], "labels": false, "title": null}}}},
  {"data": {"values": [{}]}, "mark": {"type": "point", "opacity": 0},
   "encoding": {"x": {"datum": 5, "type": "quantitative", "axis": null}, "y": {"datum": 1000, "type": "quantitative", "axis": {"orient": "left", "values": [200,300,400,500,600,700,800,900,2000,3000,4000,5000,6000,7000,8000,9000,20000,30000,40000,50000,60000,70000,80000,90000,200000], "labels": false, "title": null, "tickSize": -2.5}}}},
  {"data": {"values": [{}]}, "mark": {"type": "point", "opacity": 0},
   "encoding": {"x": {"datum": 5, "type": "quantitative", "axis": null}, "y": {"datum": 1000, "type": "quantitative", "axis": {"orient": "right", "values": [200,300,400,500,600,700,800,900,2000,3000,4000,5000,6000,7000,8000,9000,20000,30000,40000,50000,60000,70000,80000,90000,200000], "labels": false, "title": null, "tickSize": -2.5}}}},
  {"data": {"values": [{}]}, "mark": {"type": "rule", "strokeDash": [6, 4], "strokeWidth": 1.5, "color": "#1a1a1a"},
   "encoding": {"x": {"datum": 10.98, "type": "quantitative", "axis": null}}},
  {"data": {"values": [{}]}, "mark": {"type": "text", "text": "#4 σ₂=35 MPa, P", "fontSize": 24, "fontStyle": "italic", "align": "right", "baseline": "alphabetic", "color": "#1a1a1a"},
   "encoding": {"x": {"datum": 9.53, "type": "quantitative", "axis": null}, "y": {"datum": 400000, "type": "quantitative", "axis": null}}},
  {"data": {"values": [{}]}, "mark": {"type": "text", "text": "f", "fontSize": 15, "fontStyle": "italic", "align": "left", "baseline": "alphabetic", "dy": 7, "color": "#1a1a1a"},
   "encoding": {"x": {"datum": 9.53, "type": "quantitative", "axis": null}, "y": {"datum": 400000, "type": "quantitative", "axis": null}}},
  {"data": {"values": [{}]}, "mark": {"type": "text", "text": "=5 MPa", "fontSize": 24, "fontStyle": "italic", "align": "left", "baseline": "alphabetic", "dx": 5, "color": "#1a1a1a"},
   "encoding": {"x": {"datum": 9.53, "type": "quantitative", "axis": null}, "y": {"datum": 400000, "type": "quantitative", "axis": null}}},
  {"data": {"values": [{}]}, "mark": {"type": "text", "text": "volume threshold=500 vox", "fontSize": 23, "fontStyle": "italic", "fontWeight": "bold", "align": "right", "baseline": "alphabetic", "color": "#1a1a1a"},
   "encoding": {"x": {"datum": 13.13, "type": "quantitative", "axis": null}, "y": {"datum": 2390000, "type": "quantitative", "axis": null}}},
  {"data": {"values": [{}]}, "mark": {"type": "text", "text": "×10⁻³", "fontSize": 18, "align": "right", "baseline": "middle", "color": "#4a4a4a"},
   "encoding": {"x": {"datum": 12.8, "type": "quantitative", "axis": null}, "y": {"datum": 14, "type": "quantitative", "axis": null}}}
 ]
},
{
 "width": 297, "height": 174,
 "resolve": {"axis": {"x": "independent", "y": "independent"}},
 "layer": [
  {"data": {"name": "b1p"}, "mark": {"type": "line", "strokeWidth": 1},
   "encoding": {
    "x": {"field": "x", "type": "quantitative", "scale": {"domain": [3.0, 10.6], "nice": false, "zero": false}, "axis": {"values": [4, 6, 8, 10], "title": "axial strain"}},
    "y": {"field": "y", "type": "quantitative", "scale": {"domain": [0, 435000], "nice": false}, "axis": {"values": [0, 100000, 200000, 300000, 400000], "labelExpr": "''+datum.value/100000", "title": null}},
    "color": {"datum": "propagating", "scale": {"domain": ["propagating", "coalescing"], "range": ["#000000", "#ff0000"]},
     "legend": {"title": null, "orient": "none", "legendX": 25, "legendY": 18, "rowPadding": 5, "labelOffset": 14, "symbolOffset": 0,
      "encode": {"symbols": {"update": {
        "shape": {"value": "M-4.5,0H4.5M0,-1.75L1.8,1.35H-1.8Z"},
        "fill": {"signal": "datum.value=='propagating'?'#000000':'#ff0000'"},
        "stroke": {"signal": "datum.value=='propagating'?'#000000':'#ff0000'"},
        "strokeWidth": {"value": 1}, "opacity": {"value": 1}}}}}},
    "order": {"value": null}}},
  {"data": {"name": "b1p"}, "mark": {"type": "point", "shape": "triangle-up", "filled": true, "size": 230, "opacity": 1},
   "encoding": {"x": {"field": "x", "type": "quantitative", "axis": null}, "y": {"field": "y", "type": "quantitative", "axis": null}, "color": {"datum": "propagating", "legend": null}}},
  {"data": {"name": "b1c"}, "mark": {"type": "line", "strokeWidth": 1},
   "encoding": {"x": {"field": "x", "type": "quantitative", "axis": null}, "y": {"field": "y", "type": "quantitative", "axis": null}, "color": {"datum": "coalescing", "legend": null}, "order": {"value": null}}},
  {"data": {"name": "b1c"}, "mark": {"type": "point", "shape": "triangle-up", "filled": true, "size": 230, "opacity": 1},
   "encoding": {"x": {"field": "x", "type": "quantitative", "axis": null}, "y": {"field": "y", "type": "quantitative", "axis": null}, "color": {"datum": "coalescing", "legend": null}}},
  {"data": {"values": [{}]}, "mark": {"type": "point", "opacity": 0},
   "encoding": {"x": {"datum": 5, "type": "quantitative", "axis": {"orient": "top", "values": [4, 6, 8, 10], "labels": false, "title": null}}, "y": {"datum": 100000, "type": "quantitative", "axis": {"orient": "right", "values": [0, 100000, 200000, 300000, 400000], "labels": false, "title": null}}}},
  {"data": {"values": [{}]}, "mark": {"type": "rule", "strokeDash": [6, 4], "strokeWidth": 1.5, "color": "#1a1a1a"},
   "encoding": {"x": {"datum": 8, "type": "quantitative", "axis": null}}},
  {"data": {"values": [{}]}, "mark": {"type": "text", "text": "yield", "fontSize": 22, "angle": 270, "align": "center", "baseline": "middle", "color": "#1a1a1a"},
   "encoding": {"x": {"datum": 8.55, "type": "quantitative", "axis": null}, "y": {"datum": 287500, "type": "quantitative", "axis": null}}},
  {"data": {"values": [{}]}, "mark": {"type": "text", "text": "total volume", "fontSize": 22, "angle": 270, "align": "center", "baseline": "middle", "color": "#4a4a4a"},
   "encoding": {"x": {"datum": 1.516, "type": "quantitative", "axis": null}, "y": {"datum": 217500, "type": "quantitative", "axis": null}}},
  {"data": {"values": [{}]}, "mark": {"type": "text", "text": "×10⁵", "fontSize": 18, "align": "left", "baseline": "middle", "color": "#4a4a4a"},
   "encoding": {"x": {"datum": 3.0, "type": "quantitative", "axis": null}, "y": {"datum": 455000, "type": "quantitative", "axis": null}}},
  {"data": {"values": [{}]}, "mark": {"type": "text", "text": "×10⁻³", "fontSize": 18, "align": "right", "baseline": "middle", "color": "#4a4a4a"},
   "encoding": {"x": {"datum": 10.6, "type": "quantitative", "axis": null}, "y": {"datum": -110000, "type": "quantitative", "axis": null}}},
  {"data": {"values": [{}]}, "mark": {"type": "text", "text": "b)", "fontSize": 26, "align": "left", "baseline": "middle", "color": "#1a1a1a"},
   "encoding": {"x": {"datum": 1.03, "type": "quantitative", "axis": null}, "y": {"datum": -35000, "type": "quantitative", "axis": null}}}
 ]
},
{
 "width": 293, "height": 174,
 "resolve": {"axis": {"x": "independent", "y": "independent"}},
 "layer": [
  {"data": {"name": "b2p"}, "mark": {"type": "line", "strokeWidth": 1},
   "encoding": {
    "x": {"field": "x", "type": "quantitative", "scale": {"domain": [3.092, 16.6], "nice": false, "zero": false}, "axis": {"values": [5, 10, 15], "title": null}},
    "y": {"field": "y", "type": "quantitative", "scale": {"domain": [0, 1430000], "nice": false}, "axis": {"values": [0, 500000, 1000000], "labelExpr": "''+datum.value/100000", "title": null}},
    "color": {"datum": "propagating", "scale": {"domain": ["propagating", "coalescing"], "range": ["#000000", "#ff0000"]}, "legend": null},
    "order": {"value": null}}},
  {"data": {"name": "b2p"}, "mark": {"type": "point", "shape": "triangle-up", "filled": true, "size": 230, "opacity": 1},
   "encoding": {"x": {"field": "x", "type": "quantitative", "axis": null}, "y": {"field": "y", "type": "quantitative", "axis": null}, "color": {"datum": "propagating", "legend": null}}},
  {"data": {"name": "b2c"}, "mark": {"type": "line", "strokeWidth": 1},
   "encoding": {"x": {"field": "x", "type": "quantitative", "axis": null}, "y": {"field": "y", "type": "quantitative", "axis": null}, "color": {"datum": "coalescing", "legend": null}, "order": {"value": null}}},
  {"data": {"name": "b2c"}, "mark": {"type": "point", "shape": "triangle-up", "filled": true, "size": 230, "opacity": 1},
   "encoding": {"x": {"field": "x", "type": "quantitative", "axis": null}, "y": {"field": "y", "type": "quantitative", "axis": null}, "color": {"datum": "coalescing", "legend": null}}},
  {"data": {"values": [{}]}, "mark": {"type": "point", "opacity": 0},
   "encoding": {"x": {"datum": 5, "type": "quantitative", "axis": {"orient": "top", "values": [5, 10, 15], "labels": false, "title": null}}, "y": {"datum": 500000, "type": "quantitative", "axis": {"orient": "right", "values": [0, 500000, 1000000], "labels": false, "title": null}}}},
  {"data": {"values": [{}]}, "mark": {"type": "rule", "strokeDash": [6, 4], "strokeWidth": 1.5, "color": "#1a1a1a"},
   "encoding": {"x": {"datum": 6.15, "type": "quantitative", "axis": null}}},
  {"data": {"values": [{}]}, "mark": {"type": "text", "text": "×10⁵", "fontSize": 18, "align": "left", "baseline": "middle", "color": "#4a4a4a"},
   "encoding": {"x": {"datum": 3.09, "type": "quantitative", "axis": null}, "y": {"datum": 1496000, "type": "quantitative", "axis": null}}},
  {"data": {"values": [{}]}, "mark": {"type": "text", "text": "×10⁻³", "fontSize": 18, "align": "right", "baseline": "middle", "color": "#4a4a4a"},
   "encoding": {"x": {"datum": 16.6, "type": "quantitative", "axis": null}, "y": {"datum": -361600, "type": "quantitative", "axis": null}}}
 ]
},
{
 "width": 290, "height": 174,
 "resolve": {"axis": {"x": "independent", "y": "independent"}},
 "layer": [
  {"data": {"name": "b3p"}, "mark": {"type": "line", "strokeWidth": 1},
   "encoding": {
    "x": {"field": "x", "type": "quantitative", "scale": {"domain": [3.182, 12.75], "nice": false, "zero": false}, "axis": {"values": [4, 6, 8, 10, 12], "title": null}},
    "y": {"field": "y", "type": "quantitative", "scale": {"domain": [0, 103000], "nice": false}, "axis": {"values": [0, 50000, 100000], "labelExpr": "''+datum.value/10000", "title": null}},
    "color": {"datum": "propagating", "scale": {"domain": ["propagating", "coalescing"], "range": ["#000000", "#ff0000"]}, "legend": null},
    "order": {"value": null}}},
  {"data": {"name": "b3p"}, "mark": {"type": "point", "shape": "triangle-up", "filled": true, "size": 230, "opacity": 1},
   "encoding": {"x": {"field": "x", "type": "quantitative", "axis": null}, "y": {"field": "y", "type": "quantitative", "axis": null}, "color": {"datum": "propagating", "legend": null}}},
  {"data": {"name": "b3c"}, "mark": {"type": "line", "strokeWidth": 1},
   "encoding": {"x": {"field": "x", "type": "quantitative", "axis": null}, "y": {"field": "y", "type": "quantitative", "axis": null}, "color": {"datum": "coalescing", "legend": null}, "order": {"value": null}}},
  {"data": {"name": "b3c"}, "mark": {"type": "point", "shape": "triangle-up", "filled": true, "size": 230, "opacity": 1},
   "encoding": {"x": {"field": "x", "type": "quantitative", "axis": null}, "y": {"field": "y", "type": "quantitative", "axis": null}, "color": {"datum": "coalescing", "legend": null}}},
  {"data": {"values": [{}]}, "mark": {"type": "point", "opacity": 0},
   "encoding": {"x": {"datum": 5, "type": "quantitative", "axis": {"orient": "top", "values": [4, 6, 8, 10, 12], "labels": false, "title": null}}, "y": {"datum": 50000, "type": "quantitative", "axis": {"orient": "right", "values": [0, 50000, 100000], "labels": false, "title": null}}}},
  {"data": {"values": [{}]}, "mark": {"type": "rule", "strokeDash": [6, 4], "strokeWidth": 1.5, "color": "#1a1a1a"},
   "encoding": {"x": {"datum": 10.95, "type": "quantitative", "axis": null}}},
  {"data": {"values": [{}]}, "mark": {"type": "text", "text": "×10⁴", "fontSize": 18, "align": "left", "baseline": "middle", "color": "#4a4a4a"},
   "encoding": {"x": {"datum": 3.08, "type": "quantitative", "axis": null}, "y": {"datum": 107700, "type": "quantitative", "axis": null}}},
  {"data": {"values": [{}]}, "mark": {"type": "text", "text": "×10⁻³", "fontSize": 18, "align": "right", "baseline": "middle", "color": "#4a4a4a"},
   "encoding": {"x": {"datum": 12.75, "type": "quantitative", "axis": null}, "y": {"datum": -26000, "type": "quantitative", "axis": null}}}
 ]
},
{
 "width": 297, "height": 148,
 "resolve": {"axis": {"x": "independent", "y": "independent"}},
 "layer": [
  {"data": {"name": "c1n"}, "mark": {"type": "line", "strokeWidth": 1.6},
   "encoding": {
    "x": {"field": "x", "type": "quantitative", "scale": {"domain": [2.832, 10.68], "nice": false, "zero": false}, "axis": {"values": [4, 6, 8, 10], "title": "axial strain"}},
    "y": {"field": "y", "type": "quantitative", "scale": {"domain": [0, 30.2], "nice": false}, "axis": {"values": [0, 10, 20, 30], "title": null}},
    "color": {"datum": "near", "scale": {"domain": ["near", "far", "yield"], "range": ["#ff0000", "#0000ff", "#1a1a1a"]},
     "legend": {"title": null, "orient": "none", "legendX": 27.2, "legendY": 10, "rowPadding": 7, "labelOffset": 16.8, "symbolOffset": 0,
      "encode": {"symbols": {"update": {
        "shape": {"signal": "datum.value=='near'?'M-4.3,0H4.3M1,0A1,1 0 1,1 -1,0A1,1 0 1,1 1,0':datum.value=='far'?'M-4.3,0H4.3M0,-1.1L1.05,0.8H-1.05Z':'M-4.3,0H-2.5M-0.9,0H0.9M2.5,0H4.3'"},
        "fill": {"value": "transparent"},
        "stroke": {"signal": "datum.value=='near'?'#ff0000':datum.value=='far'?'#0000ff':'#1a1a1a'"},
        "strokeWidth": {"value": 1.5}, "opacity": {"value": 1}}}}}},
    "order": {"value": null}}},
  {"data": {"name": "c1n"}, "mark": {"type": "point", "shape": "circle", "filled": false, "size": 75, "strokeWidth": 1.3, "opacity": 1},
   "encoding": {"x": {"field": "x", "type": "quantitative", "axis": null}, "y": {"field": "y", "type": "quantitative", "axis": null}, "color": {"datum": "near", "legend": null}}},
  {"data": {"name": "c1f"}, "mark": {"type": "line", "strokeWidth": 1.6},
   "encoding": {"x": {"field": "x", "type": "quantitative", "axis": null}, "y": {"field": "y", "type": "quantitative", "axis": null}, "color": {"datum": "far", "legend": null}, "order": {"value": null}}},
  {"data": {"name": "c1f"}, "mark": {"type": "point", "shape": "triangle-up", "filled": false, "size": 90, "strokeWidth": 1.3, "opacity": 1},
   "encoding": {"x": {"field": "x", "type": "quantitative", "axis": null}, "y": {"field": "y", "type": "quantitative", "axis": null}, "color": {"datum": "far", "legend": null}}},
  {"data": {"values": [{}]}, "mark": {"type": "point", "opacity": 0},
   "encoding": {"x": {"datum": 5, "type": "quantitative", "axis": {"orient": "top", "values": [4, 6, 8, 10], "labels": false, "title": null}}, "y": {"datum": 10, "type": "quantitative", "axis": {"orient": "right", "values": [0, 10, 20, 30], "labels": false, "title": null}}}},
  {"data": {"values": [{}]}, "mark": {"type": "rule", "strokeDash": [6, 4], "strokeWidth": 1.5, "color": "#1a1a1a"},
   "encoding": {"x": {"datum": 8, "type": "quantitative", "axis": null}}},
  {"data": {"values": [{}]}, "mark": {"type": "text", "text": "yield", "fontSize": 22, "angle": 270, "align": "center", "baseline": "middle", "color": "#1a1a1a"},
   "encoding": {"x": {"datum": 7.455, "type": "quantitative", "axis": null}, "y": {"datum": 20.4, "type": "quantitative", "axis": null}}},
  {"data": {"values": [{}]}, "mark": {"type": "text", "text": "# growing fractures", "fontSize": 22, "angle": 270, "align": "center", "baseline": "middle", "color": "#4a4a4a"},
   "encoding": {"x": {"datum": 1.405, "type": "quantitative", "axis": null}, "y": {"datum": 15.1, "type": "quantitative", "axis": null}}},
  {"data": {"values": [{}]}, "mark": {"type": "text", "text": "×10⁻³", "fontSize": 18, "align": "right", "baseline": "middle", "color": "#4a4a4a"},
   "encoding": {"x": {"datum": 10.68, "type": "quantitative", "axis": null}, "y": {"datum": -8.98, "type": "quantitative", "axis": null}}},
  {"data": {"values": [{}]}, "mark": {"type": "text", "text": "c)", "fontSize": 26, "align": "left", "baseline": "middle", "color": "#1a1a1a"},
   "encoding": {"x": {"datum": 0.745, "type": "quantitative", "axis": null}, "y": {"datum": -10.8, "type": "quantitative", "axis": null}}}
 ]
},
{
 "width": 300, "height": 148,
 "resolve": {"axis": {"x": "independent", "y": "independent"}},
 "layer": [
  {"data": {"name": "c2n"}, "mark": {"type": "line", "strokeWidth": 1.6},
   "encoding": {
    "x": {"field": "x", "type": "quantitative", "scale": {"domain": [3.045, 16.6], "nice": false, "zero": false}, "axis": {"values": [5, 10, 15], "title": null}},
    "y": {"field": "y", "type": "quantitative", "scale": {"domain": [0, 73.3], "nice": false}, "axis": {"values": [0, 20, 40, 60], "title": null}},
    "color": {"datum": "near", "scale": {"domain": ["near", "far"], "range": ["#ff0000", "#0000ff"]}, "legend": null},
    "order": {"value": null}}},
  {"data": {"name": "c2n"}, "mark": {"type": "point", "shape": "circle", "filled": false, "size": 75, "strokeWidth": 1.3, "opacity": 1},
   "encoding": {"x": {"field": "x", "type": "quantitative", "axis": null}, "y": {"field": "y", "type": "quantitative", "axis": null}, "color": {"datum": "near", "legend": null}}},
  {"data": {"name": "c2f"}, "mark": {"type": "line", "strokeWidth": 1.6},
   "encoding": {"x": {"field": "x", "type": "quantitative", "axis": null}, "y": {"field": "y", "type": "quantitative", "axis": null}, "color": {"datum": "far", "legend": null}, "order": {"value": null}}},
  {"data": {"name": "c2f"}, "mark": {"type": "point", "shape": "triangle-up", "filled": false, "size": 90, "strokeWidth": 1.3, "opacity": 1},
   "encoding": {"x": {"field": "x", "type": "quantitative", "axis": null}, "y": {"field": "y", "type": "quantitative", "axis": null}, "color": {"datum": "far", "legend": null}}},
  {"data": {"values": [{}]}, "mark": {"type": "point", "opacity": 0},
   "encoding": {"x": {"datum": 5, "type": "quantitative", "axis": {"orient": "top", "values": [5, 10, 15], "labels": false, "title": null}}, "y": {"datum": 20, "type": "quantitative", "axis": {"orient": "right", "values": [0, 20, 40, 60], "labels": false, "title": null}}}},
  {"data": {"values": [{}]}, "mark": {"type": "rule", "strokeDash": [6, 4], "strokeWidth": 1.5, "color": "#1a1a1a"},
   "encoding": {"x": {"datum": 6.2, "type": "quantitative", "axis": null}}},
  {"data": {"values": [{}]}, "mark": {"type": "text", "text": "×10⁻³", "fontSize": 18, "align": "right", "baseline": "middle", "color": "#4a4a4a"},
   "encoding": {"x": {"datum": 16.6, "type": "quantitative", "axis": null}, "y": {"datum": -21.8, "type": "quantitative", "axis": null}}}
 ]
},
{
 "width": 306, "height": 148,
 "resolve": {"axis": {"x": "independent", "y": "independent"}},
 "layer": [
  {"data": {"name": "c3n"}, "mark": {"type": "line", "strokeWidth": 1.6},
   "encoding": {
    "x": {"field": "x", "type": "quantitative", "scale": {"domain": [2.922, 12.7], "nice": false, "zero": false}, "axis": {"values": [4, 6, 8, 10, 12], "title": null}},
    "y": {"field": "y", "type": "quantitative", "scale": {"domain": [0, 18], "nice": false}, "axis": {"values": [0, 5, 10, 15], "title": null}},
    "color": {"datum": "near", "scale": {"domain": ["near", "far"], "range": ["#ff0000", "#0000ff"]}, "legend": null},
    "order": {"value": null}}},
  {"data": {"name": "c3n"}, "mark": {"type": "point", "shape": "circle", "filled": false, "size": 75, "strokeWidth": 1.3, "opacity": 1},
   "encoding": {"x": {"field": "x", "type": "quantitative", "axis": null}, "y": {"field": "y", "type": "quantitative", "axis": null}, "color": {"datum": "near", "legend": null}}},
  {"data": {"name": "c3f"}, "mark": {"type": "line", "strokeWidth": 1.6},
   "encoding": {"x": {"field": "x", "type": "quantitative", "axis": null}, "y": {"field": "y", "type": "quantitative", "axis": null}, "color": {"datum": "far", "legend": null}, "detail": {"field": "g"}, "order": {"value": null}}},
  {"data": {"name": "c3f"}, "mark": {"type": "point", "shape": "triangle-up", "filled": false, "size": 90, "strokeWidth": 1.3, "opacity": 1},
   "encoding": {"x": {"field": "x", "type": "quantitative", "axis": null}, "y": {"field": "y", "type": "quantitative", "axis": null}, "color": {"datum": "far", "legend": null}}},
  {"data": {"values": [{}]}, "mark": {"type": "point", "opacity": 0},
   "encoding": {"x": {"datum": 5, "type": "quantitative", "axis": {"orient": "top", "values": [4, 6, 8, 10, 12], "labels": false, "title": null}}, "y": {"datum": 5, "type": "quantitative", "axis": {"orient": "right", "values": [0, 5, 10, 15], "labels": false, "title": null}}}},
  {"data": {"values": [{}]}, "mark": {"type": "rule", "strokeDash": [6, 4], "strokeWidth": 1.5, "color": "#1a1a1a"},
   "encoding": {"x": {"datum": 10.92, "type": "quantitative", "axis": null}}},
  {"data": {"values": [{}]}, "mark": {"type": "text", "text": "×10⁻³", "fontSize": 18, "align": "right", "baseline": "middle", "color": "#4a4a4a"},
   "encoding": {"x": {"datum": 12.7, "type": "quantitative", "axis": null}, "y": {"datum": -5.35, "type": "quantitative", "axis": null}}}
 ]
}
]
}
